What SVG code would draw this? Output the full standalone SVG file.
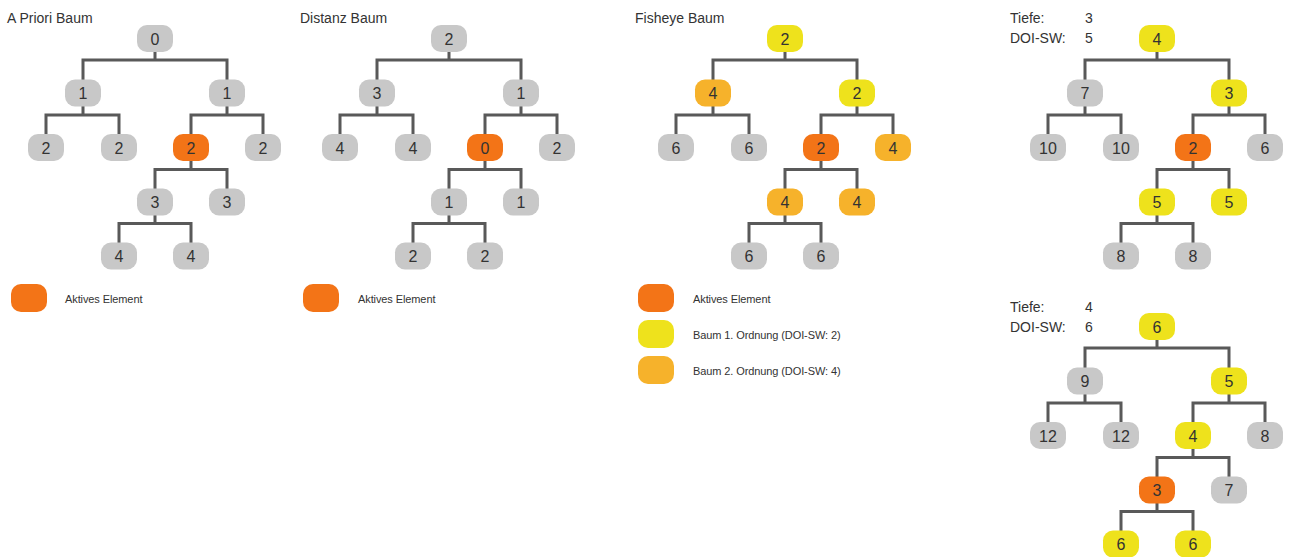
<svg xmlns="http://www.w3.org/2000/svg" xmlns:xlink="http://www.w3.org/1999/xlink" width="1291" height="557" viewBox="0 0 1291 557">
<style>
.n rect{rx:10;ry:10}
.g{fill:#c8c8c8}
.o{fill:#f37417}
.y{fill:#eee21c}
.l{fill:#f6b22b}
.n text{font-family:"Liberation Sans",Arial,sans-serif;font-size:16px;fill:#333;text-anchor:middle}
.t{font-family:"Liberation Sans",Arial,sans-serif;font-size:14px;fill:#333}
.n text.lg{font-family:"Liberation Sans",Arial,sans-serif;font-size:11px;fill:#333;text-anchor:start;letter-spacing:-0.1px}
</style>
<defs>
<g id="edges" fill="none" stroke="#595959" stroke-width="3">
<path d="M155,38.5V60M83,93V60H227V93"/>
<path d="M83,93V115M46,147.5V115H119V147.5"/>
<path d="M227,93V115M191,147.5V115H263V147.5"/>
<path d="M191,147.5V169.5M155,202V169.5H227V202"/>
<path d="M155,202V223.5M119,256V223.5H191V256"/>
</g>
</defs>
<g id="connectors">
<use xlink:href="#edges"/>
<use xlink:href="#edges" transform="translate(294,0)"/>
<use xlink:href="#edges" transform="translate(630,0)"/>
<use xlink:href="#edges" transform="translate(1002,0)"/>
<use xlink:href="#edges" transform="translate(1002,288)"/>
</g>
<g id="titles">
<text class="t" x="7" y="23">A Priori Baum</text>
<text class="t" x="300" y="23">Distanz Baum</text>
<text class="t" x="635" y="23">Fisheye Baum</text>
<text class="t" x="1010" y="23">Tiefe:</text>
<text class="t" x="1085" y="23">3</text>
<text class="t" x="1010" y="43">DOI-SW:</text>
<text class="t" x="1085" y="43">5</text>
<text class="t" x="1010" y="312">Tiefe:</text>
<text class="t" x="1085" y="312">4</text>
<text class="t" x="1010" y="332">DOI-SW:</text>
<text class="t" x="1085" y="332">6</text>
</g>
<!-- Tree 1 -->
<g id="tree1" class="n">
<g id="t1n0"><rect class="g" x="137" y="25" width="36" height="27"/><text x="155" y="44.5">0</text></g>
<g id="t1n1"><rect class="g" x="65" y="79.5" width="36" height="27"/><text x="83" y="99">1</text></g>
<g id="t1n2"><rect class="g" x="209" y="79.5" width="36" height="27"/><text x="227" y="99">1</text></g>
<g id="t1n3"><rect class="g" x="28" y="134" width="36" height="27"/><text x="46" y="153.5">2</text></g>
<g id="t1n4"><rect class="g" x="101" y="134" width="36" height="27"/><text x="119" y="153.5">2</text></g>
<g id="t1n5"><rect class="o" x="173" y="134" width="36" height="27"/><text x="191" y="153.5">2</text></g>
<g id="t1n6"><rect class="g" x="245" y="134" width="36" height="27"/><text x="263" y="153.5">2</text></g>
<g id="t1n7"><rect class="g" x="137" y="188.5" width="36" height="27"/><text x="155" y="208">3</text></g>
<g id="t1n8"><rect class="g" x="209" y="188.5" width="36" height="27"/><text x="227" y="208">3</text></g>
<g id="t1n9"><rect class="g" x="101" y="242.5" width="36" height="27"/><text x="119" y="262">4</text></g>
<g id="t1n10"><rect class="g" x="173" y="242.5" width="36" height="27"/><text x="191" y="262">4</text></g>
</g>
<!-- Tree 2 -->
<g id="tree2" class="n" transform="translate(294,0)">
<g id="t2n0"><rect class="g" x="137" y="25" width="36" height="27"/><text x="155" y="44.5">2</text></g>
<g id="t2n1"><rect class="g" x="65" y="79.5" width="36" height="27"/><text x="83" y="99">3</text></g>
<g id="t2n2"><rect class="g" x="209" y="79.5" width="36" height="27"/><text x="227" y="99">1</text></g>
<g id="t2n3"><rect class="g" x="28" y="134" width="36" height="27"/><text x="46" y="153.5">4</text></g>
<g id="t2n4"><rect class="g" x="101" y="134" width="36" height="27"/><text x="119" y="153.5">4</text></g>
<g id="t2n5"><rect class="o" x="173" y="134" width="36" height="27"/><text x="191" y="153.5">0</text></g>
<g id="t2n6"><rect class="g" x="245" y="134" width="36" height="27"/><text x="263" y="153.5">2</text></g>
<g id="t2n7"><rect class="g" x="137" y="188.5" width="36" height="27"/><text x="155" y="208">1</text></g>
<g id="t2n8"><rect class="g" x="209" y="188.5" width="36" height="27"/><text x="227" y="208">1</text></g>
<g id="t2n9"><rect class="g" x="101" y="242.5" width="36" height="27"/><text x="119" y="262">2</text></g>
<g id="t2n10"><rect class="g" x="173" y="242.5" width="36" height="27"/><text x="191" y="262">2</text></g>
</g>
<!-- Tree 3 -->
<g id="tree3" class="n" transform="translate(630,0)">
<g id="t3n0"><rect class="y" x="137" y="25" width="36" height="27"/><text x="155" y="44.5">2</text></g>
<g id="t3n1"><rect class="l" x="65" y="79.5" width="36" height="27"/><text x="83" y="99">4</text></g>
<g id="t3n2"><rect class="y" x="209" y="79.5" width="36" height="27"/><text x="227" y="99">2</text></g>
<g id="t3n3"><rect class="g" x="28" y="134" width="36" height="27"/><text x="46" y="153.5">6</text></g>
<g id="t3n4"><rect class="g" x="101" y="134" width="36" height="27"/><text x="119" y="153.5">6</text></g>
<g id="t3n5"><rect class="o" x="173" y="134" width="36" height="27"/><text x="191" y="153.5">2</text></g>
<g id="t3n6"><rect class="l" x="245" y="134" width="36" height="27"/><text x="263" y="153.5">4</text></g>
<g id="t3n7"><rect class="l" x="137" y="188.5" width="36" height="27"/><text x="155" y="208">4</text></g>
<g id="t3n8"><rect class="l" x="209" y="188.5" width="36" height="27"/><text x="227" y="208">4</text></g>
<g id="t3n9"><rect class="g" x="101" y="242.5" width="36" height="27"/><text x="119" y="262">6</text></g>
<g id="t3n10"><rect class="g" x="173" y="242.5" width="36" height="27"/><text x="191" y="262">6</text></g>
</g>
<!-- Tree 4 -->
<g id="tree4" class="n" transform="translate(1002,0)">
<g id="t4n0"><rect class="y" x="137" y="25" width="36" height="27"/><text x="155" y="44.5">4</text></g>
<g id="t4n1"><rect class="g" x="65" y="79.5" width="36" height="27"/><text x="83" y="99">7</text></g>
<g id="t4n2"><rect class="y" x="209" y="79.5" width="36" height="27"/><text x="227" y="99">3</text></g>
<g id="t4n3"><rect class="g" x="28" y="134" width="36" height="27"/><text x="46" y="153.5">10</text></g>
<g id="t4n4"><rect class="g" x="101" y="134" width="36" height="27"/><text x="119" y="153.5">10</text></g>
<g id="t4n5"><rect class="o" x="173" y="134" width="36" height="27"/><text x="191" y="153.5">2</text></g>
<g id="t4n6"><rect class="g" x="245" y="134" width="36" height="27"/><text x="263" y="153.5">6</text></g>
<g id="t4n7"><rect class="y" x="137" y="188.5" width="36" height="27"/><text x="155" y="208">5</text></g>
<g id="t4n8"><rect class="y" x="209" y="188.5" width="36" height="27"/><text x="227" y="208">5</text></g>
<g id="t4n9"><rect class="g" x="101" y="242.5" width="36" height="27"/><text x="119" y="262">8</text></g>
<g id="t4n10"><rect class="g" x="173" y="242.5" width="36" height="27"/><text x="191" y="262">8</text></g>
</g>
<!-- Tree 5 -->
<g id="tree5" class="n" transform="translate(1002,288)">
<g id="t5n0"><rect class="y" x="137" y="25" width="36" height="27"/><text x="155" y="44.5">6</text></g>
<g id="t5n1"><rect class="g" x="65" y="79.5" width="36" height="27"/><text x="83" y="99">9</text></g>
<g id="t5n2"><rect class="y" x="209" y="79.5" width="36" height="27"/><text x="227" y="99">5</text></g>
<g id="t5n3"><rect class="g" x="28" y="134" width="36" height="27"/><text x="46" y="153.5">12</text></g>
<g id="t5n4"><rect class="g" x="101" y="134" width="36" height="27"/><text x="119" y="153.5">12</text></g>
<g id="t5n5"><rect class="y" x="173" y="134" width="36" height="27"/><text x="191" y="153.5">4</text></g>
<g id="t5n6"><rect class="g" x="245" y="134" width="36" height="27"/><text x="263" y="153.5">8</text></g>
<g id="t5n7"><rect class="o" x="137" y="188.5" width="36" height="27"/><text x="155" y="208">3</text></g>
<g id="t5n8"><rect class="g" x="209" y="188.5" width="36" height="27"/><text x="227" y="208">7</text></g>
<g id="t5n9"><rect class="y" x="101" y="242.5" width="36" height="27"/><text x="119" y="262">6</text></g>
<g id="t5n10"><rect class="y" x="173" y="242.5" width="36" height="27"/><text x="191" y="262">6</text></g>
</g>
<!-- Legends -->
<g id="legend1" class="n">
<rect class="o" x="11" y="284" width="36" height="28"/>
<text class="lg" x="65" y="302.5">Aktives Element</text>
</g>
<g id="legend2" class="n">
<rect class="o" x="303" y="284" width="36" height="28"/>
<text class="lg" x="358" y="302.5">Aktives Element</text>
</g>
<g id="legend3" class="n">
<rect class="o" x="638" y="284" width="36" height="28"/>
<text class="lg" x="693" y="302.5">Aktives Element</text>
<rect class="y" x="638" y="320" width="36" height="28"/>
<text class="lg" x="693" y="338.5">Baum 1. Ordnung (DOI-SW: 2)</text>
<rect class="l" x="638" y="356" width="36" height="28"/>
<text class="lg" x="693" y="374.5">Baum 2. Ordnung (DOI-SW: 4)</text>
</g>
</svg>
